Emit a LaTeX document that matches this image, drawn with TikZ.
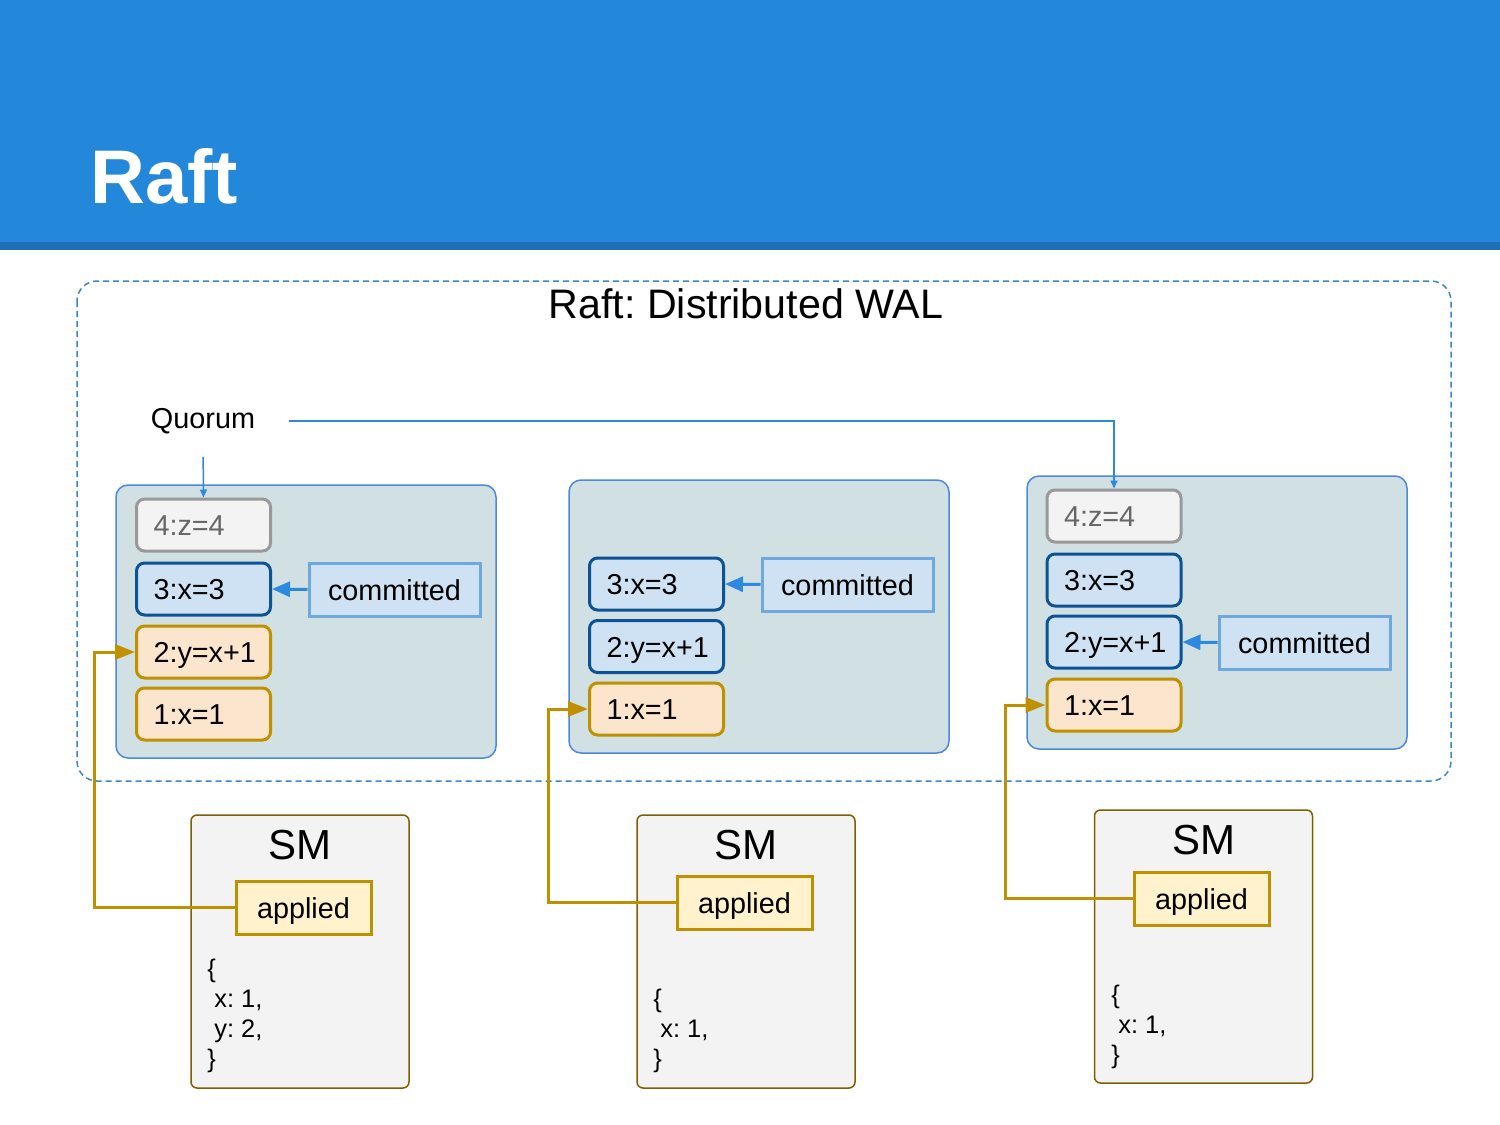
\documentclass[tikz,border=0pt]{standalone}
\usepackage{fontspec}
\setmainfont{Liberation Sans}
\usepackage{xcolor}
\usetikzlibrary{arrows.meta}
\definecolor{headblue}{HTML}{2387DA}
\definecolor{headdark}{HTML}{1E6FB8}
\definecolor{walblue}{HTML}{3D85C6}
\definecolor{groupfill}{HTML}{D0E0E3}
\definecolor{groupline}{HTML}{4A89DC}
\definecolor{newfill}{HTML}{F3F3F3}
\definecolor{newline}{HTML}{999999}
\definecolor{commfill}{HTML}{CFE2F3}
\definecolor{commline}{HTML}{0B5394}
\definecolor{markline}{HTML}{6FA8DC}
\definecolor{applyfill}{HTML}{FCE5CD}
\definecolor{gold}{HTML}{BF9000}
\definecolor{appliedfill}{HTML}{FFF2CC}
\definecolor{smline}{HTML}{7F6000}
\definecolor{arrowblue}{HTML}{2D89E0}

\tikzset{
  entry/.style={draw, rounded corners=4pt, line width=1.5pt, minimum height=26pt,
    text width=50pt, inner xsep=8.5pt, align=left, text height=10.5pt, text depth=0pt,
    font=\fontsize{14.4}{17}\selectfont},
  newentry/.style={entry, fill=newfill, draw=newline, text=black!60},
  commentry/.style={entry, fill=commfill, draw=commline},
  applyentry/.style={entry, fill=applyfill, draw=gold},
  commitmark/.style={draw=markline, fill=commfill, line width=1.5pt, minimum width=85.5pt,
    minimum height=26.5pt, text height=10.5pt, text depth=0pt, font=\fontsize{14.4}{17}\selectfont},
  appliedbox/.style={draw=gold, fill=appliedfill, line width=1.5pt, minimum width=67.5pt,
    minimum height=26.5pt, text height=10.5pt, text depth=0pt, font=\fontsize{14.4}{17}\selectfont},
  group/.style={draw=groupline, fill=groupfill, line width=0.75pt, rounded corners=6pt,
    minimum width=190pt, minimum height=136.5pt},
  smbox/.style={draw=smline, fill=newfill, line width=0.75pt, rounded corners=3pt,
    minimum width=109pt, minimum height=136.5pt},
  smstate/.style={anchor=north west, inner sep=0pt, align=left,
    font=\fontsize{12.7}{15}\selectfont},
  commitarrow/.style={draw=arrowblue, line width=1.5pt, -{Triangle[width=7.5pt,length=9pt]}},
  quorumarrow/.style={draw=arrowblue, line width=0.75pt, -{Triangle[width=3.5pt,length=4pt]}},
  applyarrow/.style={draw=gold, line width=1.5pt, -{Triangle[width=7.5pt,length=10pt]}}
}

\begin{document}
\frenchspacing
\begin{tikzpicture}[x=0.5pt,y=-0.5pt]
\useasboundingbox (0,0) rectangle (1500,1125);

% header
\fill[headblue] (0,0) rectangle (1500,242);
\fill[headdark] (0,242) rectangle (1500,250);
\node[anchor=base west, inner sep=0pt, text=white, font=\fontsize{38}{44}\selectfont\bfseries] (title) at (90,203) {Raft};

% distributed WAL
\draw[walblue, line width=0.75pt, dash pattern=on 3pt off 2pt, rounded corners=10pt] (77,281) rectangle (1451,781);
\node[font=\fontsize{20.6}{24}\selectfont] (wal) at (746,304) {Raft: Distributed WAL};

% logs
\node[group] (g1) at (306,621.5) {};
\node[group] (g2) at (759,616.5) {};
\node[group] (g3) at (1217,612.5) {};

\node[newentry] (l1e4) at (203.5,525) {4:z=4};
\node[commentry] (l1e3) at (203.5,589) {3:x=3};
\node[applyentry] (l1e2) at (203.5,652) {2:y=x+1};
\node[applyentry] (l1e1) at (203.5,714) {1:x=1};
\node[commitmark] (c1) at (394.5,589.5) {committed};

\node[commentry] (l2e3) at (656.5,584) {3:x=3};
\node[commentry] (l2e2) at (656.5,646.5) {2:y=x+1};
\node[applyentry] (l2e1) at (656.5,709) {1:x=1};
\node[commitmark] (c2) at (847.5,584.5) {committed};

\node[newentry] (l3e4) at (1114,516) {4:z=4};
\node[commentry] (l3e3) at (1114,580) {3:x=3};
\node[commentry] (l3e2) at (1114,642) {2:y=x+1};
\node[applyentry] (l3e1) at (1114,705) {1:x=1};
\node[commitmark] (c3) at (1304.5,642.5) {committed};

\draw[commitarrow] (c1.west) -- (l1e3.east);
\draw[commitarrow] (c2.west) -- (l2e3.east);
\draw[commitarrow] (c3.west) -- (l3e2.east);

% quorum
\node[font=\fontsize{14.4}{17}\selectfont] (quorum) at (203,421) {Quorum};
\draw[quorumarrow, shorten <=8pt] (quorum.south) -- (l1e4.north);
\draw[quorumarrow, shorten <=13.5pt] (quorum.east) -| (l3e4.north);

% state machines
\node[smbox] (sm1) at (300,951.5) {};
\node[smbox] (sm2) at (746,951.5) {};
\node[smbox] (sm3) at (1203.5,946.5) {};
\foreach \s/\y in {sm1/845, sm2/845, sm3/840}
  \node[font=\fontsize{21}{25}\selectfont] at (\s.center |- 0,\y) {SM};

\node[appliedbox] (ap1) at (303.5,907.5) {applied};
\node[appliedbox] (ap2) at (744.5,902.5) {applied};
\node[appliedbox] (ap3) at (1201.5,898.5) {applied};

\node[smstate] (st1) at (207,959) {\{\\\hspace*{3.5pt}x: 1,\\\hspace*{3.5pt}y: 2,\\\}};
\node[smstate] (st2) at (653,989) {\{\\\hspace*{3.5pt}x: 1,\\\}};
\node[smstate] (st3) at (1111,985) {\{\\\hspace*{3.5pt}x: 1,\\\}};

\draw[applyarrow] (ap1.west) -- ++(-140,0) |- (l1e2.west);
\draw[applyarrow] (ap2.west) -- ++(-127,0) |- (l2e1.west);
\draw[applyarrow] (ap3.west) -- ++(-127,0) |- (l3e1.west);
\end{tikzpicture}
\end{document}
